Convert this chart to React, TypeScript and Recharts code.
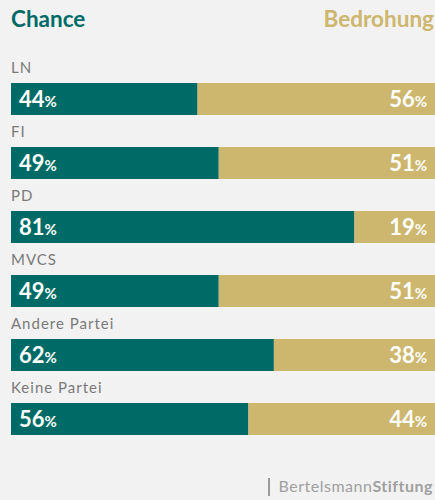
import React from "react";
import { BarChart, Bar, XAxis, YAxis, LabelList } from "recharts";

const categories = ["LN", "FI", "PD", "MVCS", "Andere Partei", "Keine Partei"];
const chance = [44, 49, 81, 49, 62, 56];
const bedrohung = [56, 51, 19, 51, 38, 44];

const TEAL = "#006b66";
const GOLD = "#cdb66e";

const data = categories.map((name, i) => ({ name, chance: chance[i], bedrohung: bedrohung[i] }));

const NameLabel = (props: any) => {
  const { x, y, value } = props;
  return (
    <text x={Number(x)} y={Number(y) - 10} fill="#7a7a7a" fontSize={15} letterSpacing={1} fontFamily="Lato">
      {value}
    </text>
  );
};

const LeftValue = (props: any) => {
  const { x, y, height, value } = props;
  return (
    <text x={Number(x) + 8} y={Number(y) + Number(height) / 2 + 8} fill="#fff" fontFamily="Lato" fontWeight={700}>
      <tspan fontSize={22}>{value}</tspan>
      <tspan fontSize={15}>%</tspan>
    </text>
  );
};

const RightValue = (props: any) => {
  const { x, y, width, height, value } = props;
  return (
    <text x={Number(x) + Number(width) - 8} y={Number(y) + Number(height) / 2 + 8} fill="#fff" fontFamily="Lato" fontWeight={700} textAnchor="end">
      <tspan fontSize={22}>{value}</tspan>
      <tspan fontSize={15}>%</tspan>
    </text>
  );
};

export default function App() {
  return (
    <div style={{ position: "fixed", left: 0, top: 0, width: 435, height: 500, background: "#f2f2f2", fontFamily: "Lato", overflow: "hidden" }}>
      <div style={{ position: "absolute", left: 11, top: 5, fontSize: 22.5, fontWeight: 700, color: TEAL, lineHeight: 1.2, whiteSpace: "nowrap" }}>Chance</div>
      <div style={{ position: "absolute", right: 1, top: 5, fontSize: 22.5, fontWeight: 700, color: GOLD, lineHeight: 1.2, whiteSpace: "nowrap" }}>Bedrohung</div>
      <BarChart width={435} height={500} data={data} layout="vertical" margin={{ top: 67, right: 0, bottom: 49, left: 11 }}>
        <XAxis type="number" domain={[0, 100]} hide />
        <YAxis type="category" dataKey="name" hide />
        <Bar dataKey="chance" stackId="a" fill={TEAL} barSize={32} isAnimationActive={false}>
          <LabelList dataKey="name" content={NameLabel} />
          <LabelList dataKey="chance" content={LeftValue} />
        </Bar>
        <Bar dataKey="bedrohung" stackId="a" fill={GOLD} barSize={32} isAnimationActive={false}>
          <LabelList dataKey="bedrohung" content={RightValue} />
        </Bar>
      </BarChart>
      <div style={{ position: "absolute", left: 268, top: 478, width: 2, height: 18, background: "#9a9a9a" }} />
      <div style={{ position: "absolute", right: 2, top: 476, fontSize: 16, lineHeight: 1.2, whiteSpace: "nowrap", letterSpacing: 0.5, color: "#a0a0a0" }}>
        <span>Bertelsmann</span>
        <span style={{ fontWeight: 700 }}>Stiftung</span>
      </div>
    </div>
  );
}
